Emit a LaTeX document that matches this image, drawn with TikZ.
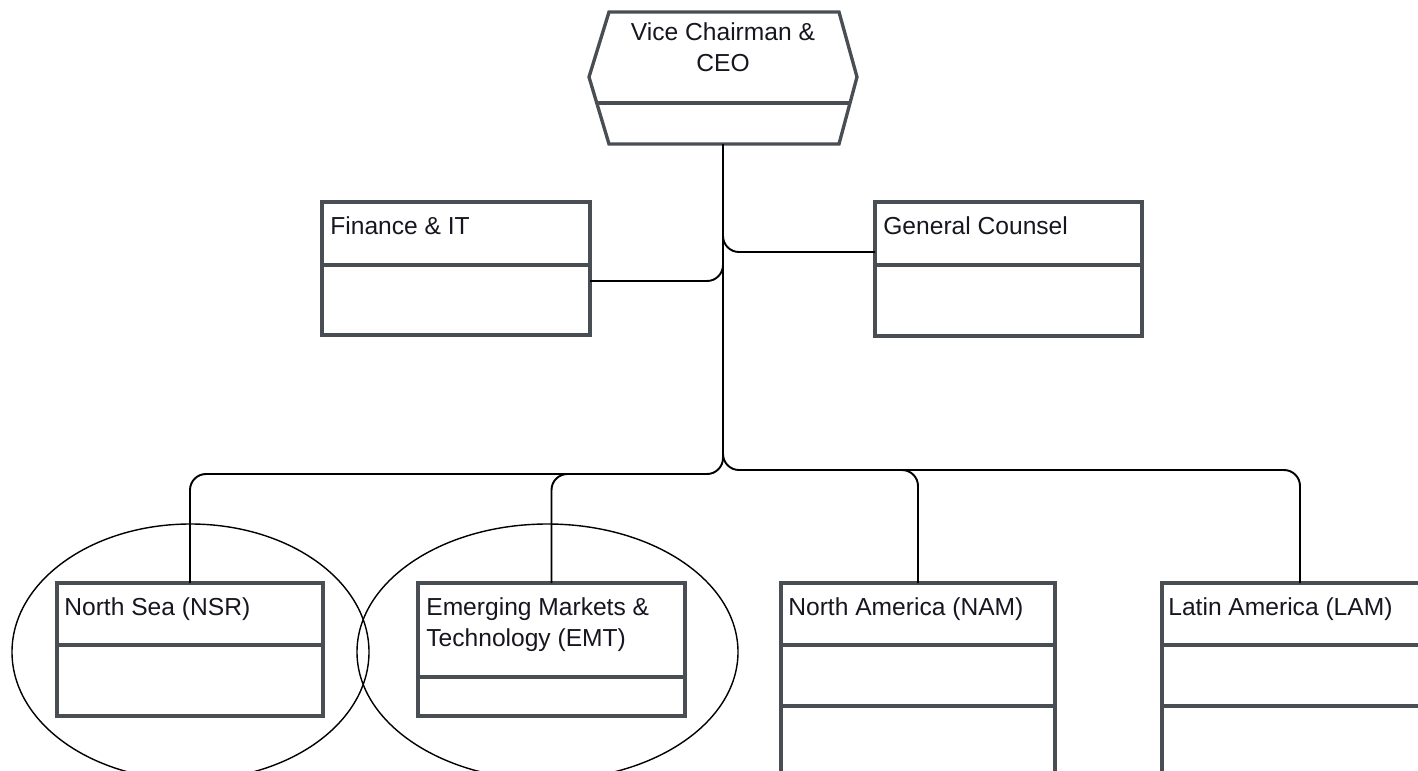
\documentclass[tikz,border=0pt]{standalone}
\usepackage{fontspec}
\setmainfont{Liberation Sans}
\usetikzlibrary{calc,shapes.geometric}
\definecolor{boxgray}{RGB}{72,78,84}
\definecolor{inkblack}{RGB}{22,22,32}
\begin{document}
\begin{tikzpicture}[x=0.02cm,y=-0.02cm,
  orgbox/.style={draw=boxgray, line width=1.9pt, rectangle, inner sep=0pt, outer sep=0pt, anchor=north west},
  rule/.style={draw=boxgray, line width=1.9pt},
  conn/.style={draw=black, line width=1.1pt, rounded corners=0.32cm},
  ring/.style={draw=black, line width=0.8pt, ellipse, inner sep=0pt},
  boxtext/.style={anchor=base west, inner sep=0pt, text=inkblack,
    font=\fontsize{14pt}{17.6pt}\selectfont, align=left},
]
\useasboundingbox (0,0) rectangle (1418,771);
\clip (0,0) rectangle (1418,771);

% top: elongated hexagon for the chief executive
\draw[rule, line join=miter] (609,12) -- (839,12) -- (857,77) -- (839,144)
  -- (609,144) -- (589,77) -- cycle;
\draw[rule] (597,103) -- (850,103);
\node[boxtext, anchor=center, align=center] (ceo) at (723,47) {Vice Chairman \&\\CEO};
\coordinate (ceobot) at (723,144);

% staff functions
\node[orgbox, minimum width=268*0.02cm, minimum height=133*0.02cm] (fin) at (322,202) {};
\node[orgbox, minimum width=267*0.02cm, minimum height=134*0.02cm] (gc) at (875,202) {};
\draw[rule] ($(fin.north west)+(0,63)$) -- ($(fin.north east)+(0,63)$);
\draw[rule] ($(gc.north west)+(0,63)$) -- ($(gc.north east)+(0,63)$);
\node[boxtext] (finT) at ($(fin.north west)+(8,32)$) {Finance \& IT};
\node[boxtext] (gcT) at ($(gc.north west)+(8,32)$) {General Counsel};

% regions
\node[orgbox, minimum width=266*0.02cm, minimum height=133*0.02cm] (nsr) at (57,583) {};
\node[orgbox, minimum width=267*0.02cm, minimum height=133*0.02cm] (emt) at (418,583) {};
\node[orgbox, minimum width=274*0.02cm, minimum height=230*0.02cm] (nam) at (781,583) {};
\node[orgbox, minimum width=276*0.02cm, minimum height=230*0.02cm] (lam) at (1162,583) {};
\draw[rule] ($(nsr.north west)+(0,62)$) -- ($(nsr.north east)+(0,62)$);
\draw[rule] ($(emt.north west)+(0,94)$) -- ($(emt.north east)+(0,94)$);
\draw[rule] ($(nam.north west)+(0,62)$) -- ($(nam.north east)+(0,62)$);
\draw[rule] ($(nam.north west)+(0,123)$) -- ($(nam.north east)+(0,123)$);
\draw[rule] ($(lam.north west)+(0,62)$) -- ($(lam.north east)+(0,62)$);
\draw[rule] ($(lam.north west)+(0,123)$) -- ($(lam.north east)+(0,123)$);
\node[boxtext] (nsrT) at ($(nsr.north west)+(7,32)$) {North Sea (NSR)};
% two-line label: base anchor sits on the last line
\node[boxtext] (emtT) at ($(emt.north west)+(8,63)$) {Emerging Markets \&\\Technology (EMT)};
\node[boxtext] (namT) at ($(nam.north west)+(7,32)$) {North America (NAM)};
\node[boxtext] (lamT) at ($(lam.north west)+(6,32)$) {Latin America (LAM)};

% highlighted regions
\node[ring, minimum width=357*0.02cm, minimum height=256*0.02cm] (nsrRing) at (190.5,652) {};
\node[ring, minimum width=381*0.02cm, minimum height=256*0.02cm] (emtRing) at (547.5,652) {};

% reporting lines
\draw[conn] (ceobot) -- ($(ceobot)+(0,300)$);
\draw[conn] ($(fin.east)+(0,12.5)$) -| ($(ceobot)+(0,100)$);
\draw[conn] ($(ceobot)+(0,85)$) |- ($(gc.west)+(0,-17)$);
\draw[conn] ($(ceobot)+(0,300)$) |- ($(nsr.north)+(0,-109)$) -- (nsr.north);
\draw[conn] ($(emt.north)+(50,-109)$) -| (emt.north);
\draw[conn] ($(ceobot)+(0,300)$) |- ($(lam.north)+(0,-113)$) -- (lam.north);
\draw[conn] ($(nam.north)+(-50,-113)$) -| (nam.north);
\end{tikzpicture}
\end{document}
